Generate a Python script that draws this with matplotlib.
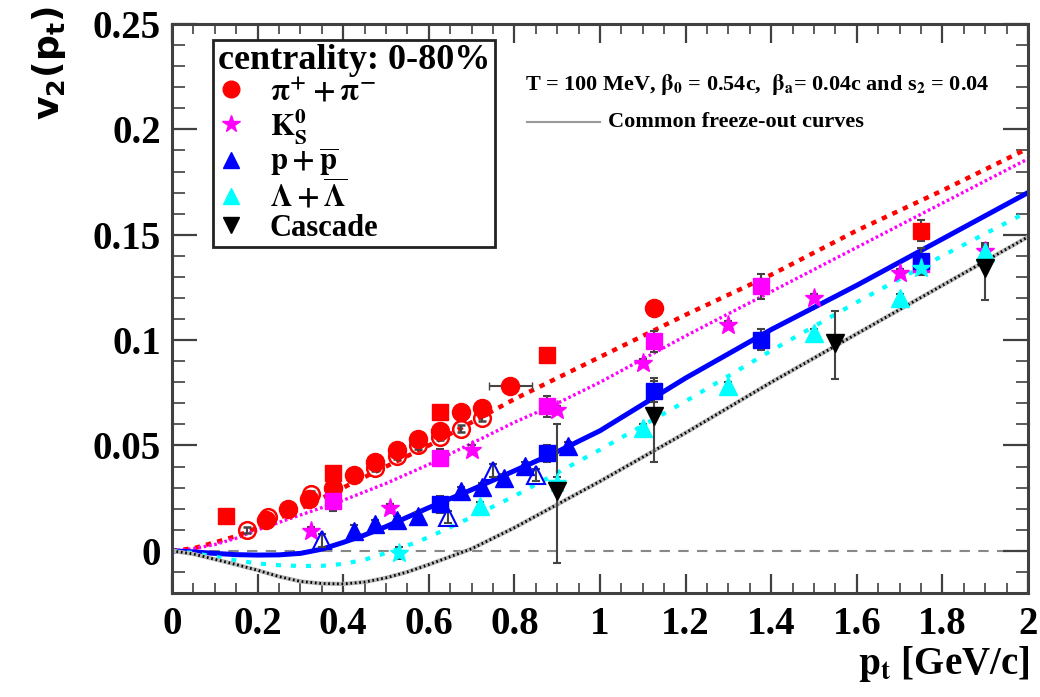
import matplotlib
matplotlib.use("Agg")
import matplotlib.pyplot as plt
from matplotlib.lines import Line2D
from matplotlib.ticker import MultipleLocator, FixedLocator

plt.rcParams['font.family'] = ['Liberation Serif', 'DejaVu Serif']
plt.rcParams['font.weight'] = 'bold'
plt.rcParams['mathtext.fontset'] = 'stix'

# ---------------- data ----------------
pi_filled_x = [0.22, 0.27, 0.32, 0.375, 0.425, 0.475, 0.525, 0.575, 0.625, 0.675, 0.725, 0.79, 1.125]
pi_filled_y = [0.0145, 0.0197, 0.0248, 0.030, 0.0358, 0.042, 0.048, 0.053, 0.057, 0.066, 0.068, 0.078, 0.115]
pi_filled_e = [0.0015, 0.0015, 0.0015, 0.0015, 0.0015, 0.0015, 0.0015, 0.0015, 0.0015, 0.0015, 0.0015, 0.0015, 0.002]

pi_open_x = [0.175, 0.225, 0.325, 0.475, 0.525, 0.575, 0.625, 0.675, 0.725]
pi_open_y = [0.0099, 0.016, 0.027, 0.0395, 0.045, 0.050, 0.054, 0.058, 0.063]

pi_sq_x = [0.125, 0.375, 0.625, 0.875, 1.75]
pi_sq_y = [0.0166, 0.0368, 0.0658, 0.0928, 0.152]
pi_sq_e = [0.001, 0.003, 0.001, 0.001, 0.005]

k_star_x = [0.325, 0.51, 0.70, 0.90, 1.10, 1.30, 1.50, 1.70, 1.90]
k_star_y = [0.0095, 0.0202, 0.048, 0.0668, 0.0892, 0.1073, 0.120, 0.1318, 0.1423]
k_star_e = [0.002, 0.002, 0.002, 0.002, 0.002, 0.002, 0.002, 0.002, 0.003]

k_sq_x = [0.375, 0.625, 0.875, 1.125, 1.375, 1.75]
k_sq_y = [0.0237, 0.0442, 0.0687, 0.0994, 0.1255, 0.136]
k_sq_e = [0.005, 0.004, 0.005, 0.005, 0.006, 0.004]

p_tri_x = [0.425, 0.475, 0.525, 0.575, 0.675, 0.725, 0.775, 0.825, 0.925]
p_tri_y = [0.0095, 0.0126, 0.0147, 0.0166, 0.0284, 0.0303, 0.0347, 0.0402, 0.0497]
p_tri_e = [0.003, 0.002, 0.002, 0.002, 0.002, 0.002, 0.002, 0.002, 0.002]

p_sq_x = [0.625, 0.875, 1.125, 1.375, 1.75]
p_sq_y = [0.022, 0.0462, 0.0758, 0.1002, 0.1376]
p_sq_e = [0.004, 0.004, 0.005, 0.005, 0.006]

p_open_x = [0.35, 0.645, 0.75, 0.85]
p_open_y = [0.005, 0.016, 0.038, 0.036]

lam_tri_x = [0.72, 1.10, 1.30, 1.50, 1.70, 1.90]
lam_tri_y = [0.0213, 0.0584, 0.078, 0.1034, 0.120, 0.142]
lam_star_x = [0.53, 0.90, 1.75]
lam_star_y = [-0.001, 0.032, 0.134]

xi_x = [0.90, 1.125, 1.55, 1.90]
xi_y = [0.0284, 0.064, 0.0987, 0.134]
xi_elo = [0.034, 0.022, 0.017, 0.015]
xi_ehi = [0.032, 0.018, 0.015, 0.012]

curve_x = [0.0, 0.05, 0.1, 0.15, 0.2, 0.25, 0.3, 0.35, 0.4, 0.45, 0.5, 0.55, 0.6, 0.7, 0.8, 0.9,
           1.0, 1.2, 1.4, 1.6, 1.8, 2.0]
pion_curve = [0.0, 0.0012, 0.004, 0.007, 0.011, 0.0155, 0.020, 0.025, 0.030, 0.035, 0.040, 0.045,
              0.050, 0.061, 0.072, 0.082, 0.092, 0.112, 0.131, 0.152, 0.171, 0.191]
kaon_curve = [0.0, 0.001, 0.003, 0.006, 0.010, 0.0135, 0.017, 0.0205, 0.024, 0.028, 0.032, 0.0365,
              0.041, 0.051, 0.061, 0.070, 0.080, 0.102, 0.123, 0.144, 0.165, 0.186]
proton_curve = [0.0, -0.0005, -0.0012, -0.0018, -0.002, -0.0019, -0.0012, 0.0008, 0.004, 0.0075,
                0.0115, 0.016, 0.0205, 0.029, 0.038, 0.047, 0.057, 0.082, 0.105, 0.126, 0.148, 0.170]
lambda_curve = [0.0, -0.001, -0.0028, -0.0045, -0.006, -0.0068, -0.0072, -0.0071, -0.0062, -0.0042,
                -0.001, 0.0025, 0.0065, 0.016, 0.026, 0.037, 0.048, 0.071, 0.095, 0.118, 0.140, 0.161]
xi_curve = [0.0, -0.0015, -0.004, -0.0065, -0.0092, -0.0122, -0.0145, -0.0155, -0.0157, -0.0148,
            -0.0128, -0.010, -0.0065, 0.001, 0.011, 0.022, 0.033, 0.056, 0.080, 0.103, 0.126, 0.149]

x_ticks = [0, 0.2, 0.4, 0.6, 0.8, 1.0, 1.2, 1.4, 1.6, 1.8, 2.0]
x_ticklabels = ['0', '0.2', '0.4', '0.6', '0.8', '1', '1.2', '1.4', '1.6', '1.8', '2']
y_ticks = [0, 0.05, 0.1, 0.15, 0.2, 0.25]
y_ticklabels = ['0', '0.05', '0.1', '0.15', '0.2', '0.25']

legend_labels = [r'$\mathbf{\pi^{+} + \pi^{-}}$', r'$\mathbf{K^{0}_{S}}$',
                 r'$\mathbf{p + \overline{p}}$', r'$\mathbf{\Lambda + \overline{\Lambda}}$', 'Cascade']

# ---------------- figure ----------------
RED, MAG, BLUE, CYAN, BLK = '#ff0000', '#ff00ff', '#0000ff', '#00ffff', '#000000'
ECOL = '#444444'

fig = plt.figure(figsize=(10.4, 6.97), dpi=100)
ax = fig.add_axes([0.1654, 0.1492, 0.8231, 0.8164])
ax.set_xlim(0, 2)
ax.set_ylim(-0.02, 0.25)

# zero line
ax.axhline(0, color='#888888', lw=1.5, ls=(0, (5, 4)), zorder=1)

# curves
ax.plot(curve_x, pion_curve, color=RED, lw=3.2, ls=(0, (1.2, 1.4)), zorder=2)
ax.plot(curve_x, kaon_curve, color=MAG, lw=2.4, ls=(0, (0.8, 0.8)), zorder=2)
ax.plot(curve_x, proton_curve, color=BLUE, lw=3.6, ls='-', zorder=2)
ax.plot(curve_x, lambda_curve, color=CYAN, lw=3.0, ls=(0, (1.2, 2.4)), zorder=2)
ax.plot(curve_x, xi_curve, color='#b8b8b8', lw=3.0, ls='-', zorder=2)
ax.plot(curve_x, xi_curve, color=BLK, lw=2.0, ls=(0, (0.6, 1.0)), zorder=2)

ekw = dict(ecolor=ECOL, elinewidth=1.5, capsize=3, capthick=1.5, ls='none', zorder=4)

# pions
ax.errorbar(pi_open_x, pi_open_y, yerr=0.0015, fmt='o', ms=12, mfc='none', mec=RED, mew=1.8, **ekw)
ax.errorbar(pi_filled_x, pi_filled_y, yerr=pi_filled_e, fmt='o', ms=13, mfc=RED, mec=RED, **ekw)
ax.errorbar([pi_filled_x[11]], [pi_filled_y[11]], xerr=0.05, fmt='none', ecolor=ECOL, elinewidth=1.5,
            capsize=3, zorder=3)
ax.errorbar(pi_sq_x, pi_sq_y, yerr=pi_sq_e, fmt='s', ms=11, mfc=RED, mec=RED, **ekw)

# kaons
ax.errorbar(k_sq_x, k_sq_y, yerr=k_sq_e, fmt='s', ms=11, mfc=MAG, mec=MAG, **ekw)
ax.errorbar(k_star_x, k_star_y, yerr=k_star_e, fmt='*', ms=14, mfc=MAG, mec=MAG, **ekw)

# protons
ax.errorbar(p_open_x, p_open_y, yerr=0.003, fmt='^', ms=13, mfc='none', mec=BLUE, mew=1.5, **ekw)
ax.errorbar(p_tri_x, p_tri_y, yerr=p_tri_e, fmt='^', ms=13, mfc=BLUE, mec=BLUE, **ekw)
ax.errorbar(p_sq_x, p_sq_y, yerr=p_sq_e, fmt='s', ms=11, mfc=BLUE, mec=BLUE, **ekw)

# lambdas
ax.errorbar(lam_star_x, lam_star_y, yerr=0.003, fmt='*', ms=14, mfc=CYAN, mec=CYAN, **ekw)
ax.errorbar(lam_tri_x, lam_tri_y, yerr=0.002, fmt='^', ms=13, mfc=CYAN, mec=CYAN, **ekw)

# cascades
ax.errorbar(xi_x, xi_y, yerr=[xi_elo, xi_ehi], fmt='v', ms=13, mfc=BLK, mec=BLK, **ekw)

# axes styling
for s in ax.spines.values():
    s.set_color('#404040')
    s.set_linewidth(2.2)
ax.xaxis.set_major_locator(FixedLocator(x_ticks))
ax.set_xticklabels(x_ticklabels)
ax.yaxis.set_major_locator(FixedLocator(y_ticks))
ax.set_yticklabels(y_ticklabels)
ax.xaxis.set_minor_locator(MultipleLocator(0.05))
ax.yaxis.set_minor_locator(MultipleLocator(0.01))
ax.tick_params(axis='x', which='major', direction='in', length=14, width=1.6, color='#404040',
               top=True, bottom=True, labelsize=28, pad=9)
ax.tick_params(axis='x', which='minor', direction='in', length=7, width=1.2, color='#404040',
               top=True, bottom=True)
ax.tick_params(axis='y', which='major', direction='in', length=18, width=1.6, color='#404040',
               left=True, right=True, labelsize=28, pad=8)
ax.tick_params(axis='y', which='minor', direction='in', length=9, width=1.2, color='#404040',
               left=True, right=True)
for lab in ax.get_xticklabels() + ax.get_yticklabels():
    lab.set_fontweight('bold')

# axis titles
fig.text(0.047, 0.91, r'$\mathbf{v_{2}(p_{t})}$', rotation=90, ha='center', va='center',
         fontsize=26, math_fontfamily='dejavusans')
fig.text(0.99, 0.048, r'$\mathbf{p_{t}}$ [GeV/c]', ha='right', va='center', fontsize=28,
         fontweight='bold')

# annotations
ax.text(0.412, 0.893, r'T = 100 MeV, $\mathbf{\beta_{0}}$ = 0.54c,  $\mathbf{\beta_{a}}$= 0.04c and s$_{\mathbf{2}}$ = 0.04',
        transform=ax.transAxes, fontsize=16, fontweight='bold', ha='left', va='center')
ax.plot([0.415, 0.5], [0.828, 0.828], transform=ax.transAxes, color='#999999', lw=1.5)
ax.text(0.509, 0.828, 'Common freeze-out curves', transform=ax.transAxes, fontsize=16,
        fontweight='bold', ha='left', va='center')

# legend
handles = [
    Line2D([], [], ls='none', marker='o', ms=12, mfc=RED, mec=RED),
    Line2D([], [], ls='none', marker='*', ms=13, mfc=MAG, mec=MAG),
    Line2D([], [], ls='none', marker='^', ms=12, mfc=BLUE, mec=BLUE),
    Line2D([], [], ls='none', marker='^', ms=12, mfc=CYAN, mec=CYAN),
    Line2D([], [], ls='none', marker='v', ms=12, mfc=BLK, mec=BLK),
]
leg = ax.legend(handles, legend_labels, loc='upper left', bbox_to_anchor=(0.048, 0.972),
                title='centrality: 0-80%', fancybox=False, framealpha=1, edgecolor='#222222',
                prop={'family': 'Liberation Serif', 'weight': 'bold', 'size': 22},
                title_fontproperties={'family': 'Liberation Serif', 'weight': 'bold', 'size': 26},
                labelspacing=0.0, handlelength=0.9, handletextpad=0.8, borderpad=0.15,
                borderaxespad=0)
leg._legend_box.align = 'left'
leg.get_frame().set_linewidth(2)
leg.set_zorder(10)

fig.savefig('out.png', dpi=100)
